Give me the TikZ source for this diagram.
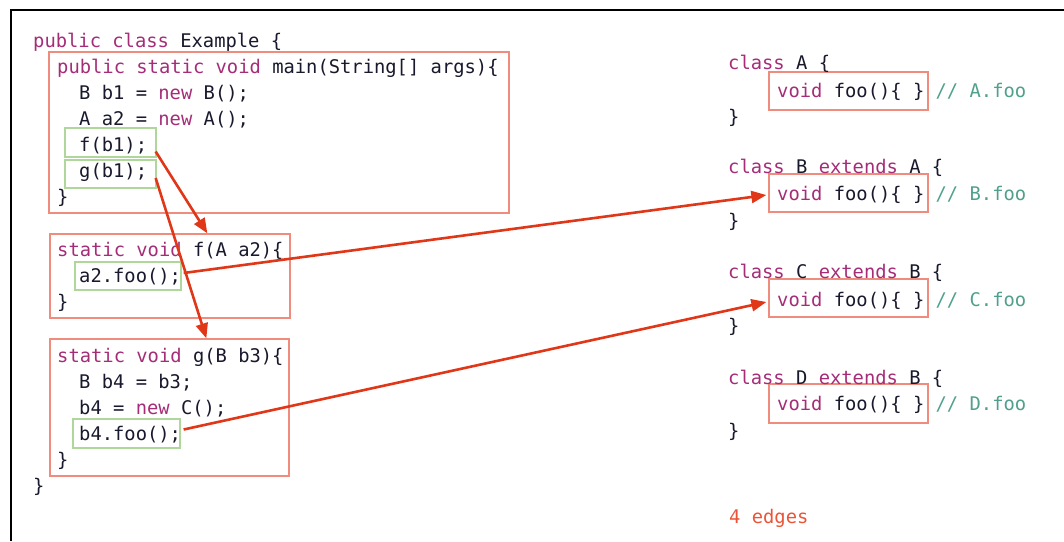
\documentclass[tikz,border=0pt]{standalone}
\usepackage{fontspec}
\setmonofont{DejaVu Sans Mono}
\usetikzlibrary{arrows.meta,calc,fit}
\definecolor{kwcol}{RGB}{165,45,120}
\definecolor{txtcol}{RGB}{25,25,45}
\definecolor{cmtcol}{RGB}{80,160,140}
\definecolor{boxred}{RGB}{240,140,125}
\definecolor{boxgreen}{RGB}{175,215,155}
\definecolor{arrred}{RGB}{225,55,25}
\definecolor{notecol}{RGB}{235,85,55}
\newcommand\kw[1]{\textcolor{kwcol}{#1}}
\newcommand\cmt[1]{\textcolor{cmtcol}{#1}}
\begin{document}
\begin{tikzpicture}[x=1pt,y=-1pt,
  code/.style={anchor=base west,inner sep=0pt,font=\ttfamily\fontsize{18.8}{19}\selectfont,text=txtcol},
  rbox/.style={draw=boxred,line width=1.3pt,inner sep=0pt},
  gbox/.style={draw=boxgreen,line width=1.3pt,inner sep=0pt},
  call/.style={draw=arrred,line width=2.6pt,-{Triangle[length=15pt,width=12pt]}},
]
\useasboundingbox (0,0) rectangle (1064,541);
% page frame
\draw[line width=2.8pt,black] (11,541) -- (11,10) -- (1064,10);

% method and call-site boxes
\node[rbox,fit={(49,52)(509,213)}] (mainbox) {};
\node[gbox,fit={(65,128)(156,157)}] (fcall) {};
\node[gbox,fit={(65,160)(156,188)}] (gcall) {};
\node[rbox,fit={(50,234)(290,318)}] (fbox) {};
\node[gbox,fit={(75,262)(181,290)}] (a2call) {};
\node[rbox,fit={(50,339)(289,476)}] (gbox) {};
\node[gbox,fit={(73,419)(180,448)}] (b4call) {};
\node[rbox,fit={(769,72)(928,110)}] (Afoo) {};
\node[rbox,fit={(769,174)(928,212)}] (Bfoo) {};
\node[rbox,fit={(769,279)(928,317)}] (Cfoo) {};
\node[rbox,fit={(769,384)(928,423)}] (Dfoo) {};

% class Example
\node[code] (l1) at (33,47) {\kw{public class} Example \{};
\node[code] (l2) at (57,73) {\kw{public static void} main(String[] args)\{};
\node[code] (l3) at (79,99) {B b1 = \kw{new} B();};
\node[code] (l4) at (79,125) {A a2 = \kw{new} A();};
\node[code] (l5) at (79,151) {f(b1);};
\node[code] (l6) at (79,177) {g(b1);};
\node[code] (l7) at (57,203) {\}};
\node[code] (l8) at (57,256) {\kw{static void} f(A a2)\{};
\node[code] (l9) at (79,282) {a2.foo();};
\node[code] (l10) at (57,308) {\}};
\node[code] (l11) at (57,362) {\kw{static void} g(B b3)\{};
\node[code] (l12) at (79,388) {B b4 = b3;};
\node[code] (l13) at (79,414) {b4 = \kw{new} C();};
\node[code] (l14) at (79,440) {b4.foo();};
\node[code] (l15) at (57,466) {\}};
\node[code] (l16) at (33,492) {\}};

% class hierarchy
\node[code] (ca1) at (728,69) {\kw{class} A \{};
\node[code] (ca2) at (777,97) {\kw{void} foo()\{ \} \cmt{// A.foo}};
\node[code] (ca3) at (728,123) {\}};
\node[code] (cb1) at (728,173) {\kw{class} B \kw{extends} A \{};
\node[code] (cb2) at (777,200) {\kw{void} foo()\{ \} \cmt{// B.foo}};
\node[code] (cb3) at (728,227) {\}};
\node[code] (cc1) at (728,278) {\kw{class} C \kw{extends} B \{};
\node[code] (cc2) at (777,306) {\kw{void} foo()\{ \} \cmt{// C.foo}};
\node[code] (cc3) at (728,332) {\}};
\node[code] (cd1) at (728,384) {\kw{class} D \kw{extends} B \{};
\node[code] (cd2) at (777,410) {\kw{void} foo()\{ \} \cmt{// D.foo}};
\node[code] (cd3) at (728,437) {\}};

\node[code,text=notecol] (edges) at (729,523) {4 edges};

% call edges
\draw[call] ($(fcall.east)+(-1,9)$) -- ($(fbox.north west)+(158,0)$);
\draw[call] ($(gcall.east)+(-1,4)$) -- ($(gbox.north west)+(157,0)$);
\draw[call] ($(a2call.east)+(2,-3)$) -- ($(Bfoo.west)+(-2,2)$);
\draw[call] ($(b4call.east)+(3,-4)$) -- ($(Cfoo.west)+(-2,4)$);
\end{tikzpicture}
\end{document}
